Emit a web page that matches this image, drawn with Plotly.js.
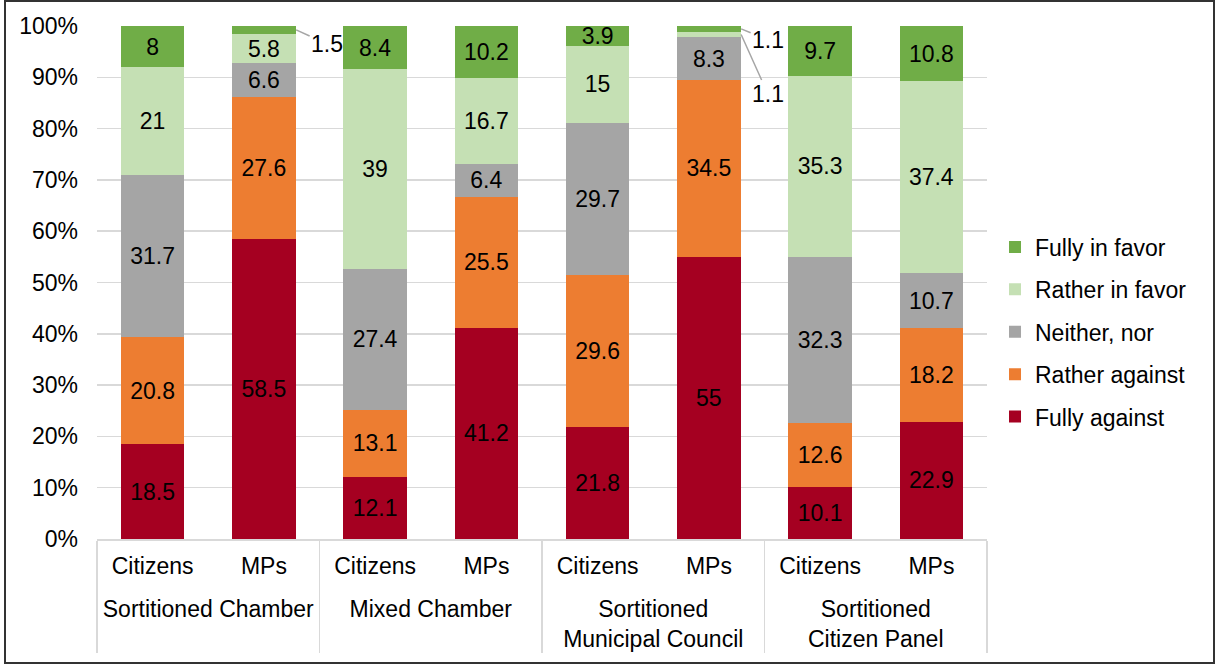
<!DOCTYPE html>
<html>
<head>
<meta charset="utf-8">
<script src="https://cdn.plot.ly/plotly-3.0.1.min.js"></script>
<style>
  html, body { margin: 0; padding: 0; background: #fff; }
  #wrap { position: relative; width: 1215px; height: 664px; }
  #chart { position: absolute; left: 0; top: 0; width: 1215px; height: 664px; }
  #frame { position: absolute; left: 4px; top: 0px; width: 1207px; height: 660px; border: 2px solid #333; pointer-events: none; }
</style>
</head>
<body>
<div id="wrap"><div id="chart"></div><div id="frame"></div></div>
<script>
// ---- Data ----
const groups = ["Sortitioned Chamber", "Sortitioned Chamber", "Mixed Chamber", "Mixed Chamber",
                "Sortitioned<br>Municipal Council", "Sortitioned<br>Municipal Council",
                "Sortitioned<br>Citizen Panel", "Sortitioned<br>Citizen Panel"];
const respondents = ["Citizens", "MPs", "Citizens", "MPs", "Citizens", "MPs", "Citizens", "MPs"];

const seriesNames = ["Fully against", "Rather against", "Neither, nor", "Rather in favor", "Fully in favor"];
const fullyAgainst   = [18.5, 58.5, 12.1, 41.2, 21.8, 55.0, 10.1, 22.9];
const ratherAgainst  = [20.8, 27.6, 13.1, 25.5, 29.6, 34.5, 12.6, 18.2];
const neitherNor     = [31.7,  6.6, 27.4,  6.4, 29.7,  8.3, 32.3, 10.7];
const ratherInFavor  = [21.0,  5.8, 39.0, 16.7, 15.0,  1.1, 35.3, 37.4];
const fullyInFavor   = [ 8.0,  1.5,  8.4, 10.2,  3.9,  1.1,  9.7, 10.8];
const seriesColors = ["#A50021", "#ED7D31", "#A5A5A5", "#C5E0B4", "#70AD47"];

const seriesValues = [fullyAgainst, ratherAgainst, neitherNor, ratherInFavor, fullyInFavor];

const FONT = "Liberation Sans, Arial, sans-serif";
const FS = 23;

// invisible taller spacer around the first-level labels, to push the group row down
const pad = "<span style='font-size:42px'> </span>";
const subLabels = respondents.map(r => pad + r + pad);

// ---- Traces ----
const traces = seriesValues.map((vals, i) => ({
  type: "bar",
  name: seriesNames[i],
  legendgroup: "g" + i,
  legendrank: seriesValues.length - i,
  x: [groups, subLabels],
  y: vals,
  marker: { color: seriesColors[i], line: { width: 0 } },
  text: vals.map(v => v < 2 ? "" : String(v)),
  textposition: "inside",
  insidetextanchor: "middle",
  textangle: 0,
  constraintext: "none",
  textfont: { family: FONT, size: FS, color: "#000" },
  hoverinfo: "name+y"
}));

// small segments labelled outside with leader lines
function cumMid(seriesIdx, barIdx) {
  let s = 0;
  for (let k = 0; k < seriesIdx; k++) s += seriesValues[k][barIdx];
  return s + seriesValues[seriesIdx][barIdx] / 2;
}
const smallLabels = [];
seriesValues.forEach((vals, si) => vals.forEach((v, bi) => {
  if (v < 2) smallLabels.push({ si, bi, v });
}));
const offsets = {
  "4-1": [31, 14],
  "4-5": [27, 11],
  "3-5": [27, 60]
};
const annotations = smallLabels.map(o => {
  const off = offsets[o.si + "-" + o.bi] || [30, 10];
  return {
    x: o.bi + 0.29, y: cumMid(o.si, o.bi), xref: "x", yref: "y",
    text: String(o.v), showarrow: true, arrowhead: 0, arrowwidth: 1.5,
    arrowcolor: "#A6A6A6", ax: off[0], ay: off[1], standoff: 0,
    font: { family: FONT, size: FS, color: "#000" }
  };
});

const layout = {
  width: 1215, height: 664,
  margin: { l: 97, r: 228, t: 26, b: 125 },
  paper_bgcolor: "rgba(0,0,0,0)", plot_bgcolor: "#fff",
  barmode: "stack",
  bargap: 0.43,
  font: { family: FONT, size: FS, color: "#000" },
  showlegend: true,
  legend: {
    x: 1.009, xanchor: "left", y: 0.4035, yanchor: "middle",
    traceorder: "grouped", tracegroupgap: 9.5,
    font: { family: FONT, size: FS, color: "#000" }, bgcolor: "rgba(0,0,0,0)"
  },
  xaxis: {
    type: "multicategory",
    tickangle: 0,
    showline: true, linecolor: "#D9D9D9", linewidth: 1.5,
    showdividers: true, dividercolor: "#D9D9D9", dividerwidth: 1.5,
    tickfont: { family: FONT, size: FS, color: "#000" },
    ticklabelstandoff: 6,
    showgrid: false, ticks: ""
  },
  yaxis: {
    range: [0, 100], dtick: 10, ticksuffix: "%",
    showgrid: true, gridcolor: "#D9D9D9", gridwidth: 1.5,
    zeroline: false, showline: false,
    ticks: "", ticklabelstandoff: 18,
    tickfont: { family: FONT, size: FS, color: "#000" }
  },
  annotations: annotations
};

Plotly.newPlot("chart", traces, layout, { displayModeBar: false, staticPlot: true });
</script>
</body>
</html>
